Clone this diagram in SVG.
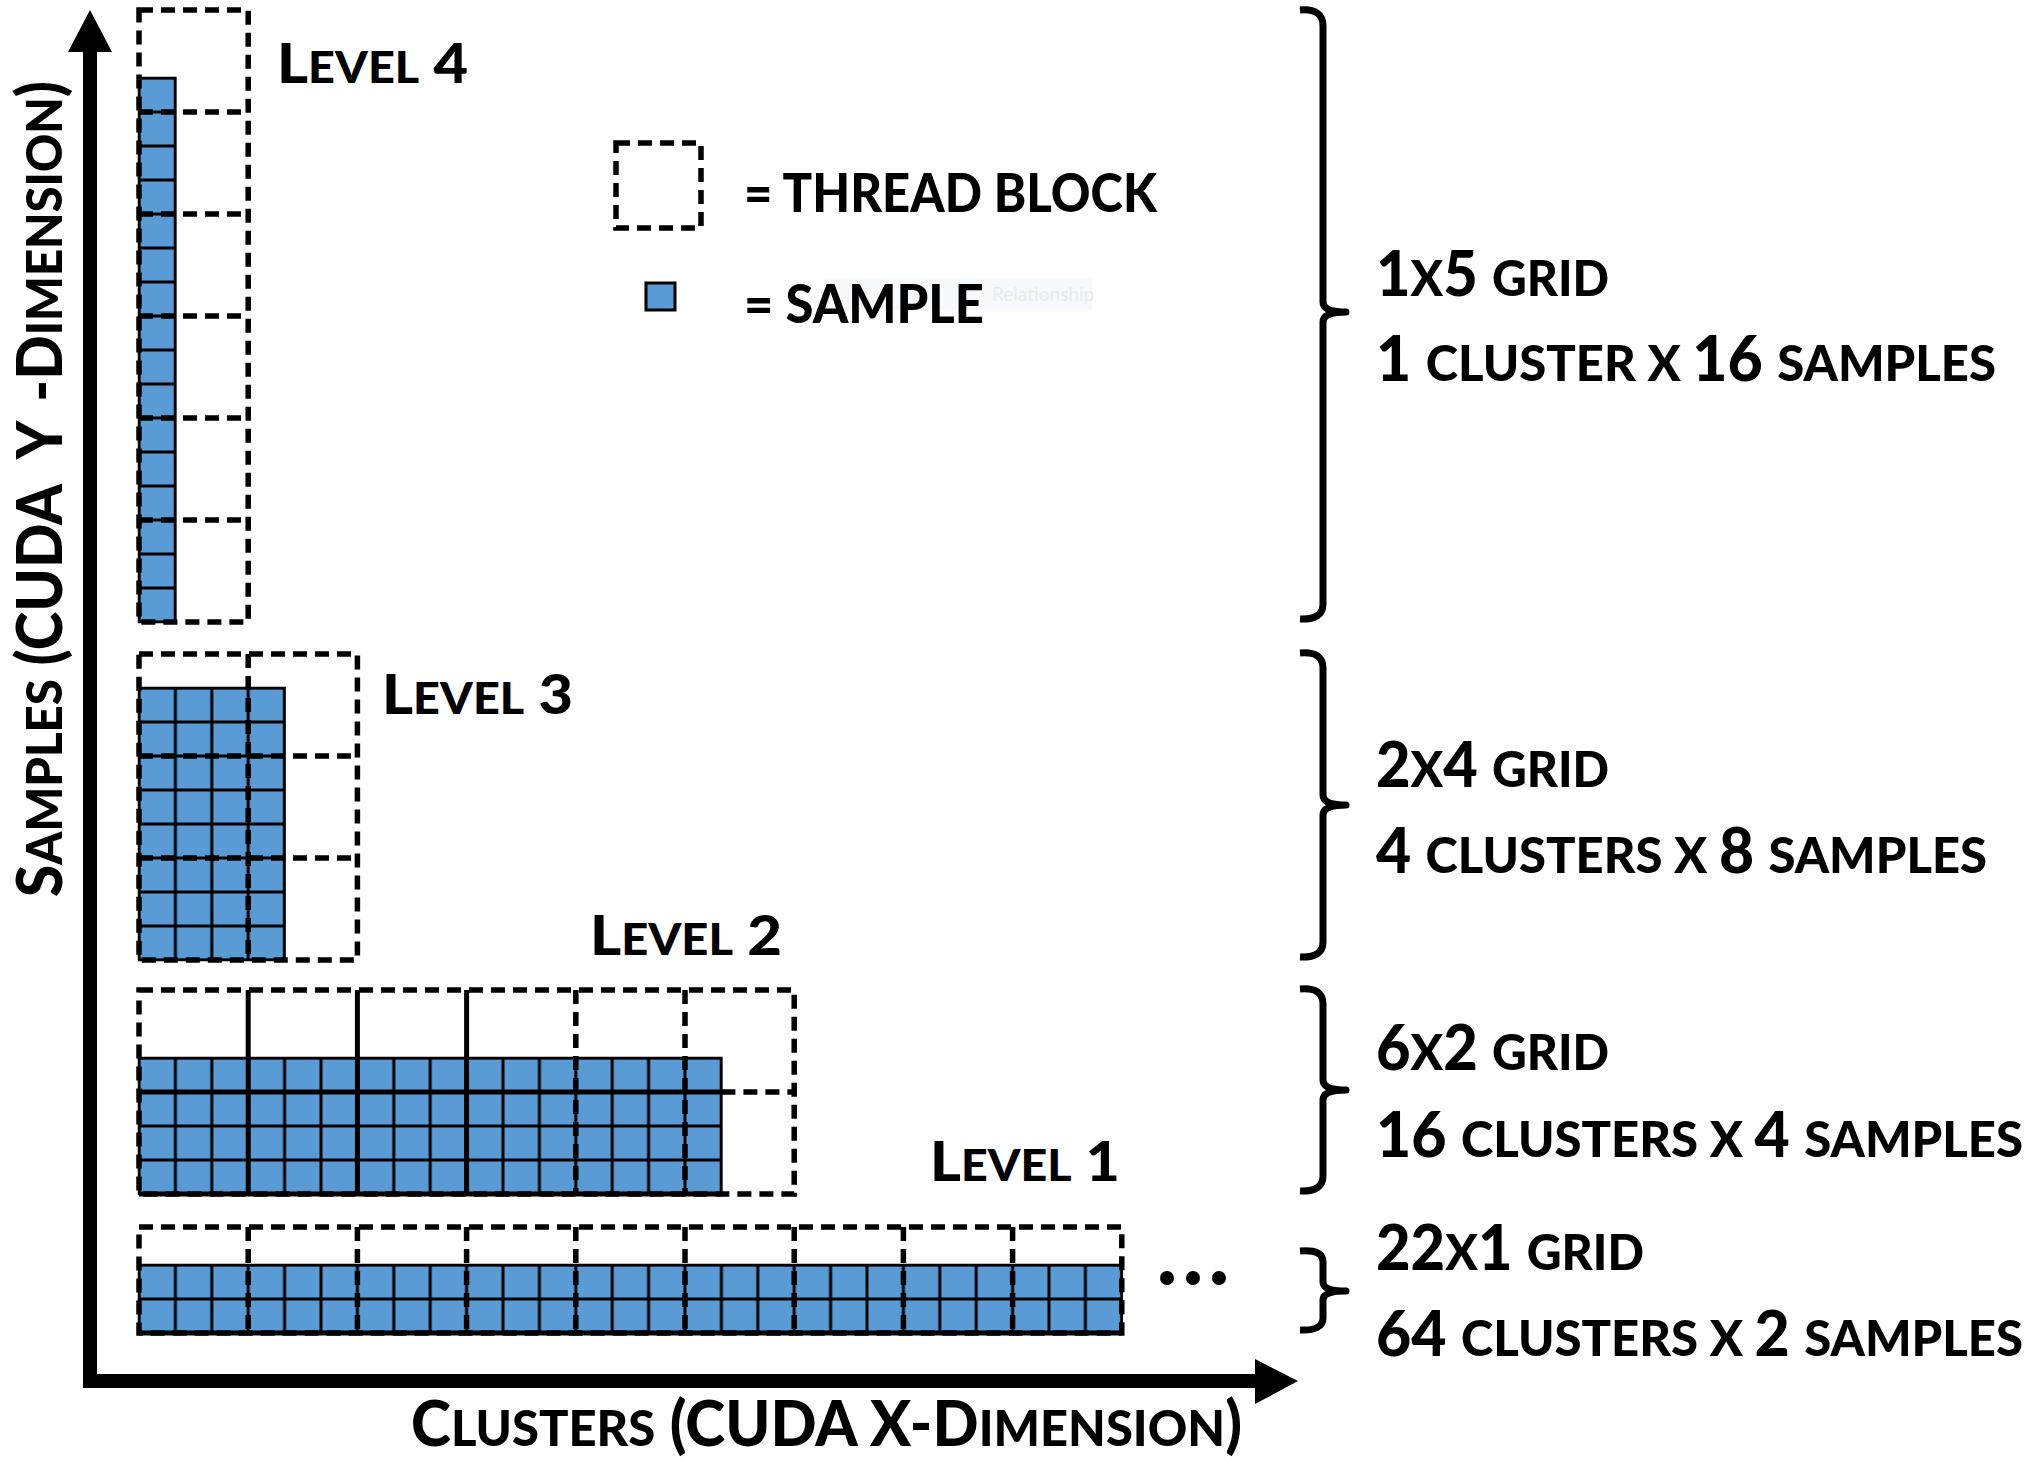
<svg xmlns="http://www.w3.org/2000/svg" width="2039" height="1461" viewBox="0 0 2039 1461">
<style>
text{font-family:Lato,"Open Sans","Liberation Sans",sans-serif;font-weight:900;fill:#000}
.tb{fill:none;stroke:#000;stroke-width:5.5;stroke-dasharray:14 8}
.solid{stroke:#000;stroke-width:5;fill:none}
.blk{stroke:#000;stroke-width:2.5}
.br{fill:none;stroke:#000;stroke-width:7;stroke-linejoin:round;stroke-linecap:butt}
.big{font-size:62px}
.sm{font-size:50px}
.lb{font-size:56px}
.ls{font-size:44px}
</style>
<defs>
<pattern id="cell" width="36.4" height="34" patternUnits="userSpaceOnUse">
<rect width="36.4" height="34" fill="#5b9bd5" stroke="#000" stroke-width="3"/>
</pattern>
</defs>
<rect width="2039" height="1461" fill="#fff"/>

<g id="connectors">
<path id="y-axis" d="M83,1388 V52 H68 L90,10 L112,52 H97 V1388 Z" fill="#000"/>
<path id="x-axis" d="M83,1374 H1255 V1359 L1298,1381 L1255,1404 V1388 H83 Z" fill="#000"/>
<path id="brace4" class="br" d="M1300,10 Q1323,8 1323,26 V302 Q1323,312 1346,312 Q1323,312 1323,322 V604 Q1323,620 1300,619"/>
<path id="brace3" class="br" d="M1300,653 Q1323,651 1323,668 V795 Q1323,805 1346,805 Q1323,805 1323,815 V942 Q1323,958 1300,957"/>
<path id="brace2" class="br" d="M1300,989 Q1323,987 1323,1004 V1080 Q1323,1090 1346,1090 Q1323,1090 1323,1100 V1176 Q1323,1192 1300,1191"/>
<path id="brace1" class="br" d="M1300,1251 Q1323,1249 1323,1262 V1282 Q1323,1291 1346,1291 Q1323,1291 1323,1300 V1318 Q1323,1331 1300,1330"/>
</g>

<g id="level4">
<g transform="translate(139,78)"><rect width="36.4" height="544" fill="url(#cell)" class="blk"/></g>
<rect class="tb" x="139" y="10" width="109.2" height="612"/>
<path class="tb" d="M139,112 H248.2 M139,214 H248.2 M139,316 H248.2 M139,418 H248.2 M139,520 H248.2"/>
<text x="277" y="83" textLength="191" lengthAdjust="spacingAndGlyphs"><tspan class="lb">L</tspan><tspan class="ls">EVEL</tspan><tspan class="lb"> 4</tspan></text>
</g>

<g id="level3">
<g transform="translate(139,688)"><rect width="145.6" height="272" fill="url(#cell)" class="blk"/></g>
<rect class="tb" x="139" y="654" width="218.4" height="306"/>
<path class="tb" d="M248.2,654 V960 M139,756 H357.4 M139,858 H357.4"/>
<text x="382" y="714" textLength="191" lengthAdjust="spacingAndGlyphs"><tspan class="lb">L</tspan><tspan class="ls">EVEL</tspan><tspan class="lb"> 3</tspan></text>
</g>

<g id="level2">
<g transform="translate(139,1058)"><rect width="582.4" height="136" fill="url(#cell)" class="blk"/></g>
<rect class="tb" x="139" y="990" width="655.2" height="204"/>
<path class="tb" d="M575.8,990 V1194 M685,990 V1194 M721.4,1092 H794.2"/>
<path class="solid" d="M248.2,990 V1194 M357.4,990 V1194 M466.6,990 V1194 M139,1092 H721.4 M139,1194 H721.4"/>
<text x="590" y="955" textLength="192" lengthAdjust="spacingAndGlyphs"><tspan class="lb">L</tspan><tspan class="ls">EVEL</tspan><tspan class="lb"> 2</tspan></text>
</g>

<g id="level1">
<g transform="translate(139,1265)"><rect width="982.8" height="68" fill="url(#cell)" class="blk"/></g>
<rect class="tb" x="139" y="1227" width="982.8" height="106"/>
<path class="tb" d="M248.2,1227 V1333 M357.4,1227 V1333 M466.6,1227 V1333 M575.8,1227 V1333 M685,1227 V1333 M794.2,1227 V1333 M903.4,1227 V1333 M1012.6,1227 V1333"/>
<path class="solid" d="M139,1333 H1121.8"/>
<circle cx="1167" cy="1278" r="7"/>
<circle cx="1193" cy="1278" r="7"/>
<circle cx="1219" cy="1278" r="7"/>
<text x="930" y="1181" textLength="190" lengthAdjust="spacingAndGlyphs"><tspan class="lb">L</tspan><tspan class="ls">EVEL</tspan><tspan class="lb"> 1</tspan></text>
</g>

<g id="legend">
<rect class="tb" x="616" y="143" width="85" height="85"/>
<text x="744" y="212" font-size="54" textLength="413" lengthAdjust="spacingAndGlyphs">= THREAD BLOCK</text>
<rect x="824" y="278" width="268" height="32" fill="#f6f9fc"/>
<text x="992" y="301" font-size="19" style="font-weight:400;fill:#e6eaf0">Relationship</text>
<rect x="646" y="283" width="29" height="27" fill="#5b9bd5" stroke="#000" stroke-width="3"/>
<text x="744" y="323" font-size="54" textLength="240" lengthAdjust="spacingAndGlyphs">= SAMPLE</text>
</g>

<g id="labels">
<text x="1376" y="296" textLength="233" lengthAdjust="spacingAndGlyphs"><tspan class="big">1</tspan><tspan class="sm">X</tspan><tspan class="big">5 </tspan><tspan class="sm">GRID</tspan></text>
<text x="1376" y="381" textLength="620" lengthAdjust="spacingAndGlyphs"><tspan class="big">1 </tspan><tspan class="sm">CLUSTER X </tspan><tspan class="big">16 </tspan><tspan class="sm">SAMPLES</tspan></text>
<text x="1376" y="787" textLength="233" lengthAdjust="spacingAndGlyphs"><tspan class="big">2</tspan><tspan class="sm">X</tspan><tspan class="big">4 </tspan><tspan class="sm">GRID</tspan></text>
<text x="1376" y="873" textLength="611" lengthAdjust="spacingAndGlyphs"><tspan class="big">4 </tspan><tspan class="sm">CLUSTERS X </tspan><tspan class="big">8 </tspan><tspan class="sm">SAMPLES</tspan></text>
<text x="1376" y="1070" textLength="233" lengthAdjust="spacingAndGlyphs"><tspan class="big">6</tspan><tspan class="sm">X</tspan><tspan class="big">2 </tspan><tspan class="sm">GRID</tspan></text>
<text x="1376" y="1157" textLength="647" lengthAdjust="spacingAndGlyphs"><tspan class="big">16 </tspan><tspan class="sm">CLUSTERS X </tspan><tspan class="big">4 </tspan><tspan class="sm">SAMPLES</tspan></text>
<text x="1376" y="1270" textLength="268" lengthAdjust="spacingAndGlyphs"><tspan class="big">22</tspan><tspan class="sm">X</tspan><tspan class="big">1 </tspan><tspan class="sm">GRID</tspan></text>
<text x="1376" y="1356" textLength="647" lengthAdjust="spacingAndGlyphs"><tspan class="big">64 </tspan><tspan class="sm">CLUSTERS X </tspan><tspan class="big">2 </tspan><tspan class="sm">SAMPLES</tspan></text>
</g>

<g id="axis-labels">
<text x="411" y="1446" textLength="831" lengthAdjust="spacingAndGlyphs"><tspan class="big">C</tspan><tspan class="sm">LUSTERS</tspan><tspan class="big"> (CUDA X-D</tspan><tspan class="sm">IMENSION</tspan><tspan class="big">)</tspan></text>
<text transform="translate(62,897) rotate(-90)" x="0" y="0" textLength="816" lengthAdjust="spacingAndGlyphs"><tspan class="big">S</tspan><tspan class="sm">AMPLES</tspan><tspan class="big"> (CUDA</tspan><tspan class="big" dx="16"> Y</tspan><tspan class="big" dx="8"> -</tspan><tspan class="big">D</tspan><tspan class="sm">IMENSION</tspan><tspan class="big">)</tspan></text>
</g>
</svg>
